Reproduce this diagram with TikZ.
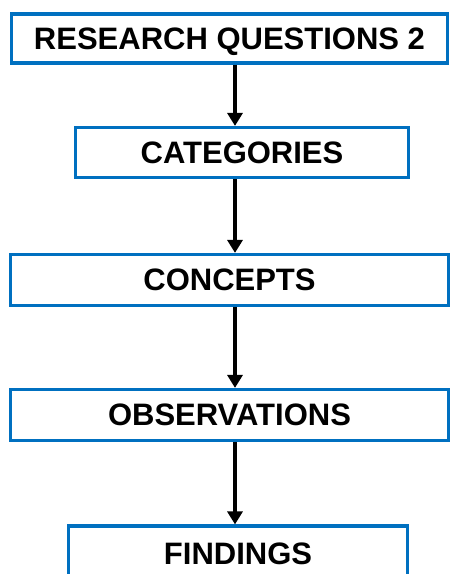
\documentclass[tikz,border=0pt]{standalone}
\usepackage{fontspec}
\setmainfont{Liberation Sans}
\usetikzlibrary{arrows.meta}
\definecolor{BoxBlue}{RGB}{0,112,192}
\tikzset{
  stage/.style={draw=BoxBlue,fill=white,line width=3.2pt,inner sep=0pt,
    text depth=0pt,font=\bfseries\fontsize{31}{36}\selectfont},
  flow/.style={draw=black,line width=3.6pt,-{Triangle[length=13pt,width=15pt]}},
}

\begin{document}
\begin{tikzpicture}[x=1pt,y=-1pt]
\useasboundingbox (0,0) rectangle (450,574);
\coordinate (axis) at (235,0);
\node[stage,minimum width=436pt,minimum height=49pt] (rq) at (229.5,38.5) {RESEARCH QUESTIONS 2};
\node[stage,minimum width=333pt,minimum height=50pt] (cat) at (242,152.5) {CATEGORIES};
\node[stage,minimum width=438pt,minimum height=51pt] (con) at (229.5,280) {CONCEPTS};
\node[stage,minimum width=438pt,minimum height=51pt] (obs) at (229.5,415) {OBSERVATIONS};
\node[stage,minimum width=339pt,minimum height=56pt] (fin) at (238,554) {FINDINGS};
\draw[flow] (rq.south -| axis) -- (cat.north -| axis);
\draw[flow] (cat.south -| axis) -- (con.north -| axis);
\draw[flow] (con.south -| axis) -- (obs.north -| axis);
\draw[flow] (obs.south -| axis) -- (fin.north -| axis);
\end{tikzpicture}
\end{document}
